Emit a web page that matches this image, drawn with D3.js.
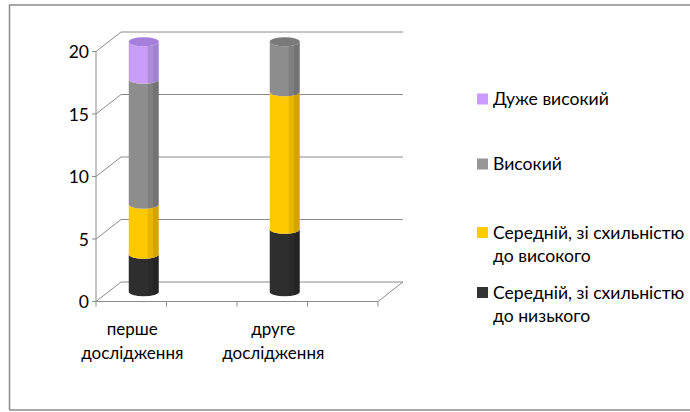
<!DOCTYPE html>
<html>
<head>
<meta charset="utf-8">
<script src="https://cdn.jsdelivr.net/npm/d3@7"></script>
<style>
  html, body { margin: 0; padding: 0; background: #fff; }
  svg { display: block; font-family: Lato, "Open Sans", sans-serif; }
</style>
</head>
<body>
<svg id="chart" width="690" height="412"></svg>
<script>
// Study rounds (categories) and stacked levels
const categories = ["перше дослідження", "друге дослідження"];
const seriesNames = [
  "Середній, зі схильністю до низького",
  "Середній, зі схильністю до високого",
  "Високий",
  "Дуже високий"
];
const lowLeaning  = [3, 5];
const highLeaning = [4, 11];
const high        = [10, 4];
const veryHigh    = [3, 0];
const yTicks = [0, 5, 10, 15, 20];

const seriesValues = [lowLeaning, highLeaning, high, veryHigh];

// Colours per level: legend swatch, lit face, two shaded facets, top cap
const palette = [
  { key: "#333333", face: "#2e2e2e", f1: "#2a2a2a", f2: "#242424", cap: "#3a3a3a" },
  { key: "#ffcc00", face: "#ffc900", f1: "#e8b500", f2: "#d4a400", cap: "#e0b000" },
  { key: "#969696", face: "#8d8d8d", f1: "#7f7f7f", f2: "#737373", cap: "#7a7a7a" },
  { key: "#cc99ff", face: "#c89df7", f1: "#ad8cdc", f2: "#a083d0", cap: "#a47fdb" }
];

const svg = d3.select("#chart");

// Front plane of the 3‑D box and its depth offset
const front = { left: 96, right: 378, bottom: 301.5, top: 51.5 };
const depth = { dx: 25, dy: -19.5 };

const y = d3.scaleLinear().domain([0, 20]).range([front.bottom, front.top]);
// Category axis is split in four slots; the rounds sit in slots 0 and 2
const slots = d3.range(categories.length * 2);
const x = d3.scaleBand().domain(slots).range([front.left, front.right]);
const slotOf = i => i * 2;

// Outer chart frame
const frame = svg.append("g").attr("stroke", "#8c8c8c").attr("stroke-width", 1.5).attr("fill", "none");
frame.append("path").attr("d", "M9.5,410 L9.5,5 L690,5");
frame.append("path").attr("d", "M9.5,410 L690,410");

// Gridlines: left wall diagonal + back wall horizontal
const grid = svg.append("g").attr("stroke", "#8a8a8a").attr("stroke-width", 1).attr("fill", "none");
yTicks.forEach(t => {
  const yy = y(t);
  grid.append("path").attr("d",
    `M${front.left},${yy} L${front.left + depth.dx},${yy + depth.dy} L${front.right + depth.dx},${yy + depth.dy}`);
});
// Floor front edge and right edge
grid.append("path").attr("d",
  `M${front.left},${front.bottom} L${front.right},${front.bottom} L${front.right + depth.dx},${front.bottom + depth.dy}`);
// Value axis line
grid.append("path").attr("d", `M${front.left},${front.top} L${front.left},${front.bottom}`);
// Value axis ticks
yTicks.forEach(t => {
  grid.append("path").attr("d", `M${front.left - 4},${y(t)} L${front.left},${y(t)}`);
});
// Category ticks
slots.concat([slots.length]).forEach(s => {
  const xx = s < slots.length ? x(s) : front.right;
  grid.append("path").attr("d", `M${xx},${front.bottom} L${xx},${front.bottom + 5}`);
});

// Value labels
svg.append("g").selectAll("text").data(yTicks).join("text")
  .attr("x", 89).attr("y", d => y(d))
  .attr("text-anchor", "end").attr("dominant-baseline", "central")
  .attr("font-size", 17.5).attr("fill", "#000")
  .text(d => d);

// Category labels (two lines)
categories.forEach((c, i) => {
  const cx = x(slotOf(i)) + x.bandwidth() / 2 + 1;
  const words = c.split(" ");
  const t = svg.append("text").attr("text-anchor", "middle").attr("font-size", 17).attr("fill", "#000");
  words.forEach((w, k) => {
    t.append("tspan").attr("x", cx).attr("y", 335 + k * 24).text(w);
  });
});

// Gradients for faceted cylinders
const defs = svg.append("defs");
palette.forEach((p, i) => {
  const g = defs.append("linearGradient").attr("id", "cyl" + i)
    .attr("x1", "0").attr("x2", "1").attr("y1", "0").attr("y2", "0");
  [
    [0, p.face], [0.6, p.face], [0.6, p.f1], [0.62, d3.color(p.f1).brighter(0.3)],
    [0.64, p.f1], [0.8, p.f1], [0.8, p.f2], [1, p.f2]
  ].forEach(([o, c]) => g.append("stop").attr("offset", o).attr("stop-color", c));
});

// Stacked cylinders, drawn at mid depth
const rx = 15, ry = 4.5;
const bars = svg.append("g");
categories.forEach((c, i) => {
  const cx = x(slotOf(i)) + x.bandwidth() / 2 + depth.dx / 2;
  let acc = 0;
  const segs = [];
  seriesValues.forEach((vals, s) => {
    const v = vals[i];
    if (v > 0) segs.push({ s, y0: acc, y1: acc + v });
    acc += v;
  });
  segs.forEach((seg, k) => {
    const yb = y(seg.y0) + depth.dy / 2;
    const yt = y(seg.y1) + depth.dy / 2;
    const d = `M${cx - rx},${yt} L${cx - rx},${yb}` +
      ` A${rx},${ry} 0 0 0 ${cx + rx},${yb}` +
      ` L${cx + rx},${yt}` +
      ` A${rx},${ry} 0 0 1 ${cx - rx},${yt} Z`;
    bars.append("path").attr("d", d).attr("fill", `url(#cyl${seg.s})`);
    if (k === segs.length - 1) {
      bars.append("ellipse").attr("cx", cx).attr("cy", yt).attr("rx", rx).attr("ry", ry)
        .attr("fill", palette[seg.s].cap);
    }
  });
});

// Legend, top entry is the highest level
const legendRows = [
  { s: 3, lines: ["Дуже високий"], y: 99 },
  { s: 2, lines: ["Високий"], y: 164 },
  { s: 1, lines: ["Середній, зі схильністю", "до високого"], y: 232.5 },
  { s: 0, lines: ["Середній, зі схильністю", "до низького"], y: 292.5 }
];
const legend = svg.append("g");
legendRows.forEach(r => {
  legend.append("rect").attr("x", 477).attr("y", r.y - 5.5).attr("width", 11).attr("height", 11)
    .attr("fill", palette[r.s].key);
  const t = legend.append("text").attr("font-size", 17.6).attr("fill", "#000");
  r.lines.forEach((l, k) => {
    t.append("tspan").attr("x", 493).attr("y", r.y + k * 23.5).attr("dy", "0.35em").text(l);
  });
});
</script>
</body>
</html>
